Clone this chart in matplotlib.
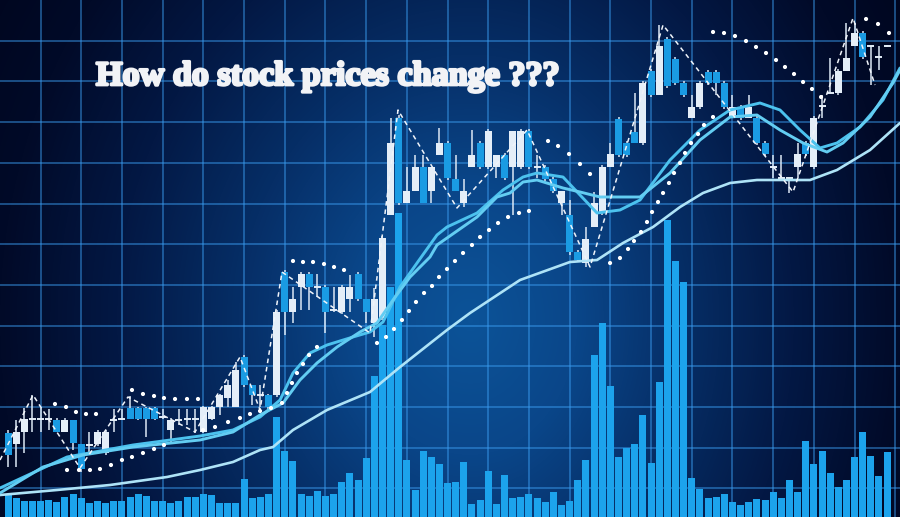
import numpy as np
import matplotlib
matplotlib.use("Agg")
import matplotlib.pyplot as plt
from matplotlib import font_manager
from matplotlib.colors import LinearSegmentedColormap
import matplotlib.patheffects as pe

# ---------------- data ----------------
title = "How do stock prices change ???"

opens = [84, 73, 85, 98, 98, 98, 97, 85, 97, 73, 72, 73, 64, 97, 98, 109, 109, 109, 109, 100,
         87, 97, 98, 98, 85, 98, 110, 119, 110, 160, 132, 122, 122, 122, 245, 205, 230, 243, 230, 230,
         207, 205, 218, 243, 218, 194, 199, 302, 399, 314, 326, 350, 326, 362, 374, 338, 314, 350, 374, 350,
         350, 362, 350, 350, 386, 350, 350, 338, 314, 302, 265, 254, 290, 304, 350, 398, 374, 385, 374, 446,
         422, 478, 458, 434, 399, 410, 445, 445, 434, 399, 410, 399, 399, 374, 350, 339, 339, 350, 374, 350,
         411, 424, 424, 446, 471, 484, 471, 460, 471]
highs = [87, 97, 109, 122, 109, 108, 99, 99, 97, 73, 85, 87, 87, 108, 108, 121, 110, 110, 110, 108,
         99, 108, 108, 108, 111, 111, 123, 137, 155, 162, 132, 132, 123, 207, 247, 230, 245, 245, 243, 232,
         230, 232, 242, 245, 218, 229, 281, 399, 402, 350, 362, 362, 350, 389, 376, 362, 338, 387, 376, 388,
         362, 364, 386, 388, 388, 362, 352, 340, 326, 317, 267, 290, 325, 352, 374, 400, 376, 424, 436, 448,
         492, 480, 460, 436, 422, 436, 447, 447, 436, 422, 412, 422, 401, 376, 362, 362, 339, 374, 376, 401,
         422, 459, 448, 494, 494, 486, 471, 471, 472]
lows = [50, 50, 64, 85, 85, 87, 85, 85, 67, 45, 64, 71, 62, 85, 97, 98, 97, 80, 97, 98,
        74, 92, 92, 84, 84, 97, 102, 110, 110, 130, 112, 110, 108, 120, 182, 194, 207, 207, 220, 184,
        205, 203, 205, 216, 194, 180, 197, 302, 312, 314, 326, 314, 314, 362, 337, 326, 310, 350, 348, 348,
        339, 337, 302, 348, 348, 339, 336, 324, 302, 262, 255, 250, 290, 302, 350, 360, 360, 374, 372, 420,
        422, 429, 432, 420, 399, 408, 432, 422, 408, 399, 397, 399, 372, 361, 339, 339, 324, 339, 361, 348,
        399, 424, 422, 446, 471, 458, 432, 447, 470]
closes = [62, 85, 98, 98, 98, 98, 85, 97, 74, 48, 72, 85, 85, 97, 98, 98, 98, 98, 98, 100,
          97, 97, 98, 98, 110, 110, 122, 132, 147, 132, 122, 122, 110, 205, 205, 218, 243, 230, 230, 205,
          207, 230, 230, 218, 205, 218, 279, 374, 314, 326, 350, 314, 350, 374, 339, 326, 326, 362, 350, 386,
          362, 339, 386, 386, 350, 350, 338, 326, 326, 265, 257, 278, 314, 350, 363, 362, 362, 374, 434, 422,
          471, 431, 434, 422, 410, 434, 434, 434, 410, 410, 399, 410, 374, 363, 350, 339, 339, 363, 363, 399,
          411, 424, 446, 459, 484, 460, 471, 460, 471]
volumes = [23, 19, 16, 16, 16, 17, 15, 20, 23, 19, 14, 16, 14, 16, 16, 20, 23, 21, 16, 16,
           14, 16, 20, 20, 23, 22, 14, 14, 14, 38, 19, 20, 23, 100, 66, 56, 23, 21, 26, 21,
           23, 35, 44, 37, 59, 141, 192, 230, 304, 57, 27, 66, 60, 53, 34, 35, 55, 13, 17, 46,
           13, 42, 19, 20, 23, 19, 15, 25, 12, 16, 37, 57, 162, 194, 131, 60, 69, 73, 102, 54,
           135, 297, 256, 235, 39, 28, 19, 20, 23, 15, 12, 15, 18, 17, 25, 19, 37, 25, 76, 53,
           66, 44, 30, 37, 60, 85, 61, 41, 65]

# moving averages (session index, price)
ma_slow_x = [-0.98, 6.02, 12.53, 19.53, 23.59, 27.64, 30.96, 32.56, 35.01, 39.19, 44.47, 48.16, 53.93,
             56.76, 62.90, 69.04, 72.36, 75.55, 79.24, 82.56, 85.38, 88.70, 92.01, 98.53, 101.84, 105.90, 109.58]
ma_slow_y = [22, 27, 32, 40, 47, 55, 67, 70, 87, 107, 125, 150, 187,
             204, 237, 255, 257, 274, 290, 310, 324, 334, 337, 337, 347, 367, 394]
ma_fast1_x = [-0.98, 7.25, 15.36, 23.59, 27.64, 30.96, 33.42, 35.01, 37.10, 39.19, 42.38, 44.47, 46.07,
              48.16, 50.25, 52.70, 53.93, 57.62, 60.81, 63.27, 64.99, 68.18, 70.27, 72.36, 75.18, 77.64,
              81.33, 85.01, 88.70, 92.38, 94.84, 97.30, 99.75, 101.84, 104.67, 107.49, 109.58]
ma_fast1_y = [29, 60, 72, 81, 87, 100, 117, 144, 164, 172, 180, 185, 195,
              230, 254, 282, 290, 304, 327, 340, 344, 340, 322, 304, 307, 317,
              357, 387, 407, 414, 407, 387, 369, 374, 390, 417, 449]
ma_fast2_x = [-0.98, 4.30, 9.21, 15.36, 23.59, 27.64, 30.96, 33.78, 35.87, 37.96, 40.42, 43.24, 45.33,
              47.30, 49.39, 51.84, 52.70, 57.62, 60.07, 61.67, 63.27, 64.99, 68.18, 70.27, 72.73, 77.64,
              81.33, 85.01, 88.70, 92.01, 94.84, 97.67, 100.61, 102.58, 105.90, 108.72, 109.58]
ma_fast2_y = [24, 50, 62, 70, 77, 85, 102, 114, 137, 154, 170, 185, 194,
              217, 240, 260, 272, 300, 320, 324, 335, 337, 329, 325, 320, 320,
              344, 377, 400, 402, 387, 374, 365, 374, 400, 434, 447]

# zigzag of swing highs / lows
zig_x = [-0.98, 3.07, 8.85, 14.74, 22.97, 28.50, 30.96, 33.66, 44.47, 47.91, 55.16, 63.76, 71.50,
         80.47, 96.44, 103.81, 106.51]
zig_y = [57, 122, 49, 120, 85, 160, 107, 245, 184, 407, 309, 387, 250, 492, 325, 499, 432]

# parabolic SAR dots
sar_x = [5.77, 7.13, 8.35, 9.58, 10.81,
         7.25, 8.72, 10.07, 11.30, 12.65, 14.0, 15.23, 16.58, 17.94, 19.16,
         15.23, 16.58, 17.94, 19.16, 20.52, 21.99, 23.34,
         23.96, 25.43, 27.03, 28.50, 29.73, 30.96, 32.31, 33.66, 34.28, 34.89, 35.50, 36.24, 36.98, 37.96,
         35.01, 36.24, 37.47, 38.82, 40.05, 41.28,
         45.33, 46.44, 47.42, 48.40, 49.26, 50.12, 51.11, 52.09, 52.95, 53.93, 54.91, 55.90, 57.00, 57.99,
         59.09, 60.20, 61.43, 62.78, 64.00,
         66.34, 67.57, 68.92, 70.27, 71.50,
         73.96, 75.18, 76.17, 76.90, 77.76, 78.50, 79.12, 79.85, 80.47, 81.20, 81.82, 82.56, 83.17, 83.91,
         84.77, 85.50, 86.61,
         86.61, 87.96, 89.31, 90.66, 91.89, 93.12, 94.35, 95.45, 96.56, 97.67, 98.77, 99.88,
         105.41, 106.88, 108.23]
sar_y = [113, 110, 105, 103, 103,
         47, 47, 47, 48, 52, 57, 60, 64, 68, 72,
         127, 123, 121, 119, 118, 118, 118,
         87, 90, 95, 99, 103, 106, 109, 114, 124, 134, 144, 153, 162, 170,
         256, 255, 255, 253, 250, 247,
         174, 180, 188, 197, 206, 215, 224, 231, 240, 248, 256, 264, 272, 280,
         287, 294, 300, 304, 306,
         376, 371, 363, 353, 343,
         254, 259, 268, 276, 285, 295, 305, 315, 324, 334, 344, 354, 364, 374,
         383, 392, 400,
         485, 484, 481, 476, 470, 464, 457, 450, 443, 435, 428, 420,
         498, 493, 484]

# ---------------- figure ----------------
W, H = 900, 517
fig = plt.figure(figsize=(9.0, 5.17), dpi=100)
ax = fig.add_axes([0, 0, 1, 1])
x0, x1 = -0.983, 109.58
y0, y1 = 0, 517
ax.set_xlim(x0, x1)
ax.set_ylim(y0, y1)

# background radial gradient
yy, xx = np.mgrid[0:H, 0:W].astype(float)
cx, cy = 470.0, 320.0
rx = np.where(xx < cx, 470.0, 430.0)
ry = 540.0
t = np.sqrt(((xx - cx) / rx) ** 2 + ((yy - cy) / ry) ** 2) / 1.3
bg_cmap = LinearSegmentedColormap.from_list(
    "bg", [(0.0, "#0c5398"), (0.19, "#0a4689"), (0.38, "#062e66"),
           (0.58, "#031844"), (0.77, "#010a28"), (1.0, "#00041a")])
ax.imshow(np.clip(t, 0, 1), cmap=bg_cmap, vmin=0, vmax=1, extent=[x0, x1, y0, y1],
          origin="upper", aspect="auto", zorder=0, interpolation="bilinear")

# grid
ax.set_xticks(np.arange(4, 110, 5))
ax.set_yticks(517 - 40.7 * np.arange(1, 13))
ax.grid(True, color="#3a9cf0", alpha=0.6, lw=1.1, zorder=1)
ax.tick_params(length=0, labelbottom=False, labelleft=False)
for s in ax.spines.values():
    s.set_visible(False)
ax.set_axisbelow(True)

idx = np.arange(len(opens))
o = np.array(opens, float); c = np.array(closes, float)
h = np.array(highs, float); l = np.array(lows, float)

# volume bars
ax.bar(idx, volumes, width=0.86, bottom=0, color="#1ca3ec", edgecolor="none", zorder=2)

# candles
white = "#e4eef8"
blue = "#1a9be3"
up = c > o
down = c < o
doji = c == o
ax.vlines(idx, l, h, color="#dce8f5", lw=1.1, zorder=3)
ax.bar(idx[up], (c - o)[up], bottom=o[up], width=0.86, color=white, edgecolor="none", zorder=3.5)
ax.bar(idx[down], (o - c)[down], bottom=c[down], width=0.86, color=blue, edgecolor="none", zorder=3.5)
ax.hlines(o[doji], idx[doji] - 0.43, idx[doji] + 0.43, color=white, lw=1.4, zorder=3.5)

# moving averages
ax.plot(ma_slow_x, ma_slow_y, color="#aee3f7", lw=1.9, zorder=4, solid_capstyle="round")
ax.plot(ma_fast1_x, ma_fast1_y, color="#4cc2ee", lw=2.1, zorder=4, solid_capstyle="round")
ax.plot(ma_fast2_x, ma_fast2_y, color="#63cdf2", lw=2.1, zorder=4, solid_capstyle="round")

# zigzag
ax.plot(zig_x, zig_y, color="#f0f4fa", lw=1.1, ls=(0, (3, 2.5)), zorder=5)

# SAR
ax.scatter(sar_x, sar_y, s=9, color="white", edgecolors="none", zorder=6)

# title
names = {f.name for f in font_manager.fontManager.ttflist}
fam = "Liberation Serif" if "Liberation Serif" in names else "DejaVu Serif"
txt = ax.text(96 / W, 1 - 85 / H, title, transform=ax.transAxes, ha="left", va="baseline",
              fontsize=22, fontweight="bold", family=fam, color="#f2f3f6", zorder=10,
              path_effects=[pe.withStroke(linewidth=2.0, foreground="#f2f3f6")])
fig.canvas.draw()
bb = txt.get_window_extent(fig.canvas.get_renderer())
txt.set_fontsize(22 * 463.0 / bb.width)

fig.savefig("out.png", dpi=100)
